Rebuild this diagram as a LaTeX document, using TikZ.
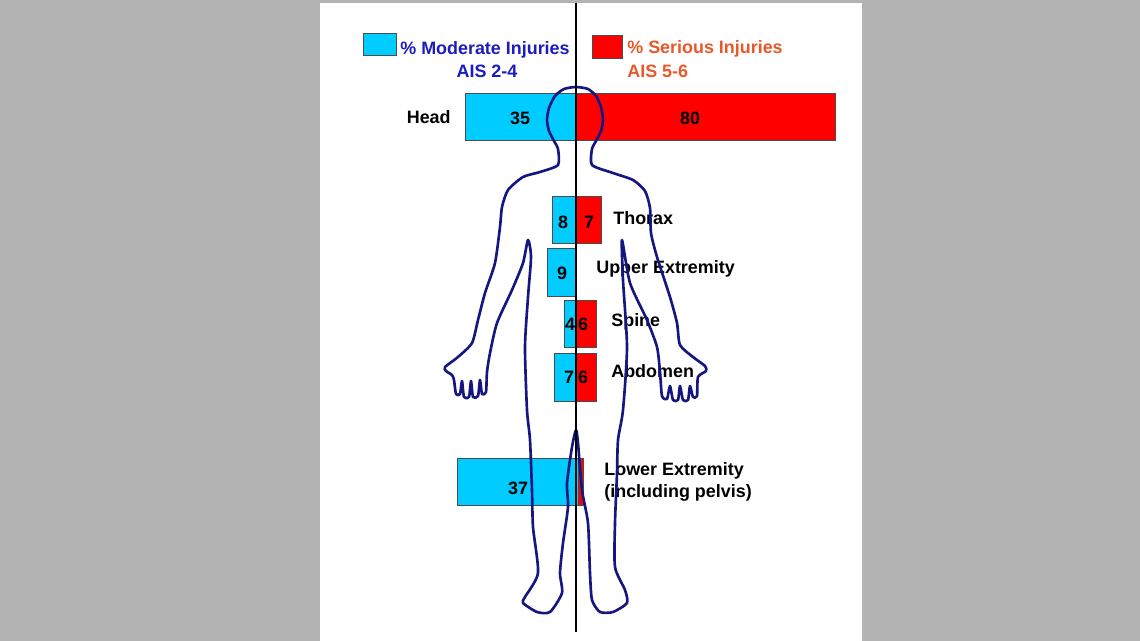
\documentclass[tikz,border=0pt]{standalone}
\usepackage{fontspec}
\setmainfont{Liberation Sans}
\definecolor{modcyan}{RGB}{0,204,255}
\definecolor{serred}{RGB}{255,0,0}
\definecolor{modblue}{RGB}{28,28,190}
\definecolor{serorange}{RGB}{232,88,40}
\definecolor{bodyblue}{RGB}{22,22,128}
\definecolor{slidegray}{RGB}{179,179,179}
\begin{document}
\begin{tikzpicture}[x=0.02cm,y=-0.02cm]
\tikzset{lbl/.style = {inner sep = 0pt, font=\fontsize{10.2}{12}\selectfont\bfseries},
         modbar/.style = {fill=modcyan, draw=black!70, line width=0.4pt},
         serbar/.style = {fill=serred, draw=black!70, line width=0.4pt},
         body/.style = {draw=bodyblue, line width=1.5pt, line join=round}}
\fill[slidegray] (0,0) rectangle (1140,641);
\fill[white] (320,3) rectangle (862,641);
\useasboundingbox (0,0) rectangle (1140,641);
% legend
\draw[modbar] (363,33) rectangle (396,55);
\draw[serbar] (592,35) rectangle (622,58);
\node[lbl, text=modblue, anchor=base west] (modtxt) at (400,55) {\% Moderate Injuries};
\node[lbl, text=modblue, anchor=base] (modais) at (487,78) {AIS 2-4};
\node[lbl, text=serorange, anchor=base west] (sertxt) at (627,54) {\% Serious Injuries};
\node[lbl, text=serorange, anchor=base west] (serais) at (627,78) {AIS 5-6};
% bars
\draw[modbar] (465,93) rectangle (576,140);
\draw[serbar] (576,93) rectangle (835,140);
\draw[modbar] (552,196) rectangle (576,243);
\draw[serbar] (576,196) rectangle (601,243);
\draw[modbar] (547,248) rectangle (576,296);
\draw[modbar] (564,300) rectangle (576,347);
\draw[serbar] (576,300) rectangle (596,347);
\draw[modbar] (554,353) rectangle (576,401);
\draw[serbar] (576,353) rectangle (596,401);
\draw[modbar] (457,458) rectangle (578,505);
\draw[serbar] (578,458) rectangle (583,505);
\node[lbl] (headmod) at (520,118) {35};
\node[lbl] (headser) at (690,118) {80};
\node[lbl] (thomod) at (563,222) {8};
\node[lbl] (thoser) at (589,222) {7};
\node[lbl] (uppmod) at (562,273) {9};
\node[lbl] (spimod) at (570,324) {4};
\node[lbl] (spiser) at (583,324) {6};
\node[lbl] (abdmod) at (569,377) {7};
\node[lbl] (abdser) at (583,377) {6};
\node[lbl] (lowmod) at (518,488) {37};
% regions
\node[lbl, anchor=base east] (head) at (451,124) {Head};
\node[lbl, anchor=base west] (thorax) at (613,225) {Thorax};
\node[lbl, anchor=base west] (upper) at (596,274) {Upper Extremity};
\node[lbl, anchor=base west] (spine) at (611,327) {Spine};
\node[lbl, anchor=base west] (abdomen) at (611,378) {Abdomen};
\node[lbl, anchor=base west] (lower) at (604,476) {Lower Extremity};
\node[lbl, anchor=base west] (pelvis) at (604,498) {(including pelvis)};
% body
\draw[body] plot[smooth cycle, tension=0.4] coordinates {
  (576,87) (588,89) (596,96) (601,107) (603,120) (601,131) (596,141) (592,149)
  (592,165) (613,173) (633,180) (645,191) (650,208) (651,233) (657,257) (670,297)
  (677,323) (680,345) (693,357) (705,366) (706,371) (698,377) (697,396) (693,397)
  (690,386) (688,400) (683,400) (680,386) (678,400) (673,400) (670,386) (667,399)
  (662,396) (660,372) (657,347) (647,320) (630,283) (622,240) (623,280) (627,347)
  (623,410) (618,440) (617,473) (615,523) (615,567) (625,590) (627,603) (613,612)
  (600,612) (592,600) (590,573) (588,523) (582,490) (578,443) (576,430) (572,447)
  (567,483) (568,507) (563,543) (560,573) (562,593) (550,612) (537,612) (523,603)
  (525,597) (538,573) (533,527) (532,490) (530,440) (527,410) (525,347) (528,297)
  (531,257) (528,240) (523,263) (512,290) (497,323) (490,353) (487,372) (486,392)
  (482,394) (480,380) (478,396) (473,397) (471,381) (469,397) (464,397) (462,381)
  (460,394) (456,394) (454,380) (452,375) (446,371) (445,367) (458,357) (472,343)
  (478,320) (485,293) (495,263) (500,227) (502,207) (508,190) (523,177) (540,172)
  (558,165) (558,149) (554,141) (549,131) (547,120) (549,108) (555,96) (564,89)};
% axis
\coordinate (top) at (576,3);
\coordinate (bot) at (576,632);
\draw[line width=1.7pt] (top) -- (bot);
\end{tikzpicture}
\end{document}
